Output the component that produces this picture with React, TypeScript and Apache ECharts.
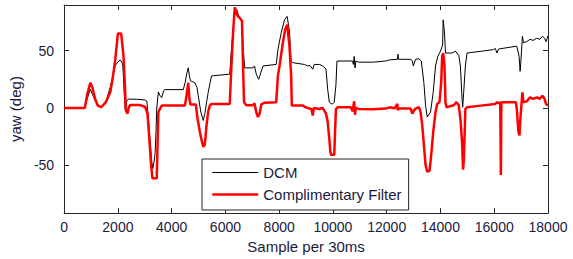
import React, { useEffect, useRef } from "react";
import * as echarts from "echarts";

const yTicks = [-50, 0, 50];

const dcmX = [0, 770, 860, 975, 1050, 1200, 1383, 1550, 1716, 1900, 2000, 2085, 2150, 2185, 2230, 2270, 2330, 2395, 2700, 3000, 3074, 3120, 3160, 3259, 3300, 3340, 3383, 3420, 3444, 3506, 3560, 3630, 3700, 3753, 4432, 4500, 4560, 4617, 4660, 4700, 4864, 4940, 4988, 5086, 5175, 5235, 5300, 5359, 5430, 5482, 6160, 6223, 6285, 6347, 6380, 6420, 6470, 6556, 6617, 6655, 6717, 7026, 7080, 7148, 7235, 7280, 7397, 7890, 7952, 8075, 8198, 8297, 8383, 8445, 8500, 8938, 9062, 9150, 9248, 9300, 9500, 9618, 9741, 9803, 9865, 9926, 9988, 10049, 10111, 10149, 10730, 10760, 10790, 10820, 10850, 10950, 11500, 11964, 12100, 12397, 12420, 12440, 12900, 12953, 12990, 13075, 13198, 13286, 13383, 13446, 13508, 13630, 13730, 13815, 13900, 14000, 14080, 14100, 14150, 14186, 14433, 14556, 14680, 14741, 14803, 14827, 14864, 14926, 14988, 15500, 15975, 16040, 16100, 16160, 16840, 16926, 16963, 16990, 17049, 17086, 17210, 17333, 17450, 17580, 17700, 17790, 17870, 17926, 18000];
const dcmY = [0, 0, 8, 16.5, 12, 4, 1, 5, 18, 37, 40, 42, 40, 36.7, 15, -1, 6, 7.8, 7.5, 7, 6, -5, -18, -47, -53, -48, -40, -20, -1, 14, 11, 9, 15, 16, 16, 22, 30, 35, 28, 23.7, 22, 18, 10.7, -3.7, -11, -5, 5, 13.6, 22, 28, 29.5, 51, 68, 88, 85, 86, 82, 78, 76, 54, 35, 35, 36.7, 29.5, 25, 28, 36.7, 38, 51, 65.6, 77, 80, 67, 41, 39.6, 38, 36.7, 37, 33.8, 38, 38, 36.7, 34, 16.5, 5, 3.6, 3.5, 5, 20, 41, 41, 38, 45, 35, 41, 40, 40, 41, 42, 42.5, 47, 42.5, 42.5, 41, 36.7, 42.5, 43, 41, 22, 2, -8, -3.7, 13.6, 36.7, 45, 49.7, 55, 77, 65.6, 48, 48, 49.7, 46, 36.7, 7.8, 0.6, 13.6, 36.7, 48, 49.5, 51, 52, 48, 51.5, 54, 45, 32, 40, 62.7, 57, 58, 60, 59, 61, 60, 62.7, 61, 58, 63];

const cfX = [0, 770, 860, 975, 1050, 1150, 1250, 1383, 1550, 1716, 1800, 1900, 2000, 2122, 2210, 2260, 2296, 2358, 2400, 2457, 2800, 3012, 3100, 3160, 3235, 3284, 3444, 3481, 3506, 3560, 3630, 4494, 4560, 4617, 4660, 4700, 4900, 4963, 5050, 5111, 5175, 5235, 5297, 5360, 5420, 5482, 6160, 6223, 6285, 6347, 6408, 6470, 6556, 6617, 6655, 6693, 6778, 7026, 7080, 7148, 7210, 7272, 7334, 7457, 7890, 7952, 8013, 8137, 8222, 8297, 8383, 8445, 8470, 8900, 8938, 9124, 9200, 9248, 9290, 9494, 9618, 9741, 9803, 9865, 9901, 9926, 10049, 10080, 10111, 10173, 10667, 10730, 10790, 10820, 10850, 10950, 11500, 11964, 12100, 12300, 12397, 12410, 12440, 12890, 12953, 13020, 13075, 13198, 13260, 13322, 13383, 13446, 13508, 13593, 13656, 13730, 13815, 13876, 13963, 14026, 14063, 14100, 14150, 14186, 14223, 14494, 14593, 14680, 14741, 14803, 14840, 14870, 14901, 14926, 14988, 15500, 16038, 16100, 16160, 16223, 16247, 16265, 16803, 16840, 16901, 16938, 16970, 17000, 17049, 17086, 17210, 17333, 17450, 17580, 17700, 17790, 17870, 17926, 18000];
const cfY = [0, 0, 12, 22, 18, 8, 2, 0.6, 5, 13.6, 25, 42, 65, 65, 45, 20, -2, -5, 0, 2.6, 2.5, 1, -5, -24, -50, -61.5, -61.5, -27, -3.7, -1, 2, 2, 12, 22, 8, 3, 3, -9.5, -21, -28, -34, -32, -15, -3, 2, 3.5, 3.5, 36.7, 65.6, 88, 83, 80, 78, 76, 36.7, 5, 2.3, 2.3, 4, -3.7, -8, -5, 3, 4.5, 5, 28, 36.7, 57, 68.5, 72.8, 54, 28, 2, 2, 1, -0.6, -1, -6.6, 0, -1, 0, -5, -12, -27, -38, -41, -41, -20, -1, 0.6, 0.6, -3, 5.8, -6, 0, -0.9, -1.2, -0.6, 0.5, -0.3, 3.5, -2, -0.6, -0.6, -5, -2, -0.6, 0.6, -3.7, -15, -32.7, -50, -55.7, -55, -41, -21, -3.7, 3.5, 5, 22, 45, 48, 36.7, 5, 0.6, 2.3, 5, 2.3, -9.5, -29.7, -54, -45, -21, -1, 0.6, 2, 3.5, 5, 4, 5, -58.7, 5, 5, -1, -21, -24, -10, -1, 13.6, 5, 5.7, 9.2, 7.8, 9.2, 8, 10.7, 8, 3.5, 2];

const FONT = "Liberation Sans, Arial, sans-serif";
const TEXT = "#1a1a40";
const AXIS = "#262626";

export default function App() {
  const ref = useRef<HTMLDivElement>(null);
  useEffect(() => {
    if (!ref.current) return;
    const chart = echarts.init(ref.current, undefined, { renderer: "svg" });
    const dcm = dcmX.map((x, i) => [x, dcmY[i]]);
    const cf = cfX.map((x, i) => [x, cfY[i]]);
    const axisLine = { show: true, onZero: false, lineStyle: { color: AXIS, width: 1 } };
    const tick = { show: true, inside: true, length: 5, lineStyle: { color: AXIS, width: 1 } };
    chart.setOption({
      animation: false,
      backgroundColor: "#fff",
      textStyle: { fontFamily: FONT },
      grid: { left: 62, right: 25, top: 5, bottom: 44, containLabel: false },
      legend: {
        orient: "vertical",
        left: 202,
        top: 159,
        padding: [6, 7, 8, 9],
        itemWidth: 46,
        itemHeight: 14,
        itemGap: 7,
        backgroundColor: "#fff",
        borderColor: AXIS,
        borderWidth: 1,
        borderRadius: 0,
        itemStyle: { opacity: 0 },
        textStyle: { fontFamily: FONT, fontSize: 15, color: TEXT },
        data: [
          { name: "DCM", lineStyle: { width: 1, color: "#000" } },
          { name: "Complimentary Filter", lineStyle: { width: 2.5, color: "#ff0000" } },
        ],
      },
      xAxis: [
        {
          type: "value",
          min: 0,
          max: 18000,
          interval: 2000,
          name: "Sample per 30ms",
          nameLocation: "middle",
          nameGap: 25,
          nameTextStyle: { fontFamily: FONT, fontSize: 15, color: TEXT },
          axisLine,
          axisTick: tick,
          axisLabel: {
            fontFamily: FONT,
            fontSize: 14,
            color: TEXT,
            margin: 7,
            formatter: (v: number) => String(v),
          },
          splitLine: { show: false },
        },
        {
          type: "value",
          position: "top",
          min: 0,
          max: 18000,
          interval: 2000,
          axisLine,
          axisTick: tick,
          axisLabel: { show: false },
          splitLine: { show: false },
        },
      ],
      yAxis: [
        {
          type: "value",
          min: -92,
          max: 90,
          name: "yaw (deg)",
          nameLocation: "middle",
          nameGap: 38,
          nameRotate: 90,
          nameTextStyle: { fontFamily: FONT, fontSize: 15, color: TEXT },
          axisLine,
          axisTick: { ...tick, customValues: yTicks },
          axisLabel: { fontFamily: FONT, fontSize: 14, color: TEXT, margin: 10, customValues: yTicks },
          splitLine: { show: false },
        },
        {
          type: "value",
          position: "right",
          min: -92,
          max: 90,
          axisLine,
          axisTick: { ...tick, customValues: yTicks },
          axisLabel: { show: false, customValues: yTicks },
          splitLine: { show: false },
        },
      ],
      series: [
        {
          name: "DCM",
          type: "line",
          data: dcm,
          showSymbol: false,
          symbol: "none",
          lineStyle: { color: "#000", width: 1 },
          itemStyle: { color: "#000" },
          z: 2,
        },
        {
          name: "Complimentary Filter",
          type: "line",
          data: cf,
          showSymbol: false,
          symbol: "none",
          lineStyle: { color: "#ff0000", width: 2.5 },
          itemStyle: { color: "#ff0000" },
          z: 3,
        },
        {
          name: "frame",
          type: "line",
          xAxisIndex: 1,
          yAxisIndex: 1,
          data: [],
          symbol: "none",
          silent: true,
        },
      ],
    });
    return () => chart.dispose();
  }, []);
  return (
    <div
      ref={ref}
      style={{ position: "absolute", left: 0, top: 0, width: 573, height: 259 }}
    />
  );
}
